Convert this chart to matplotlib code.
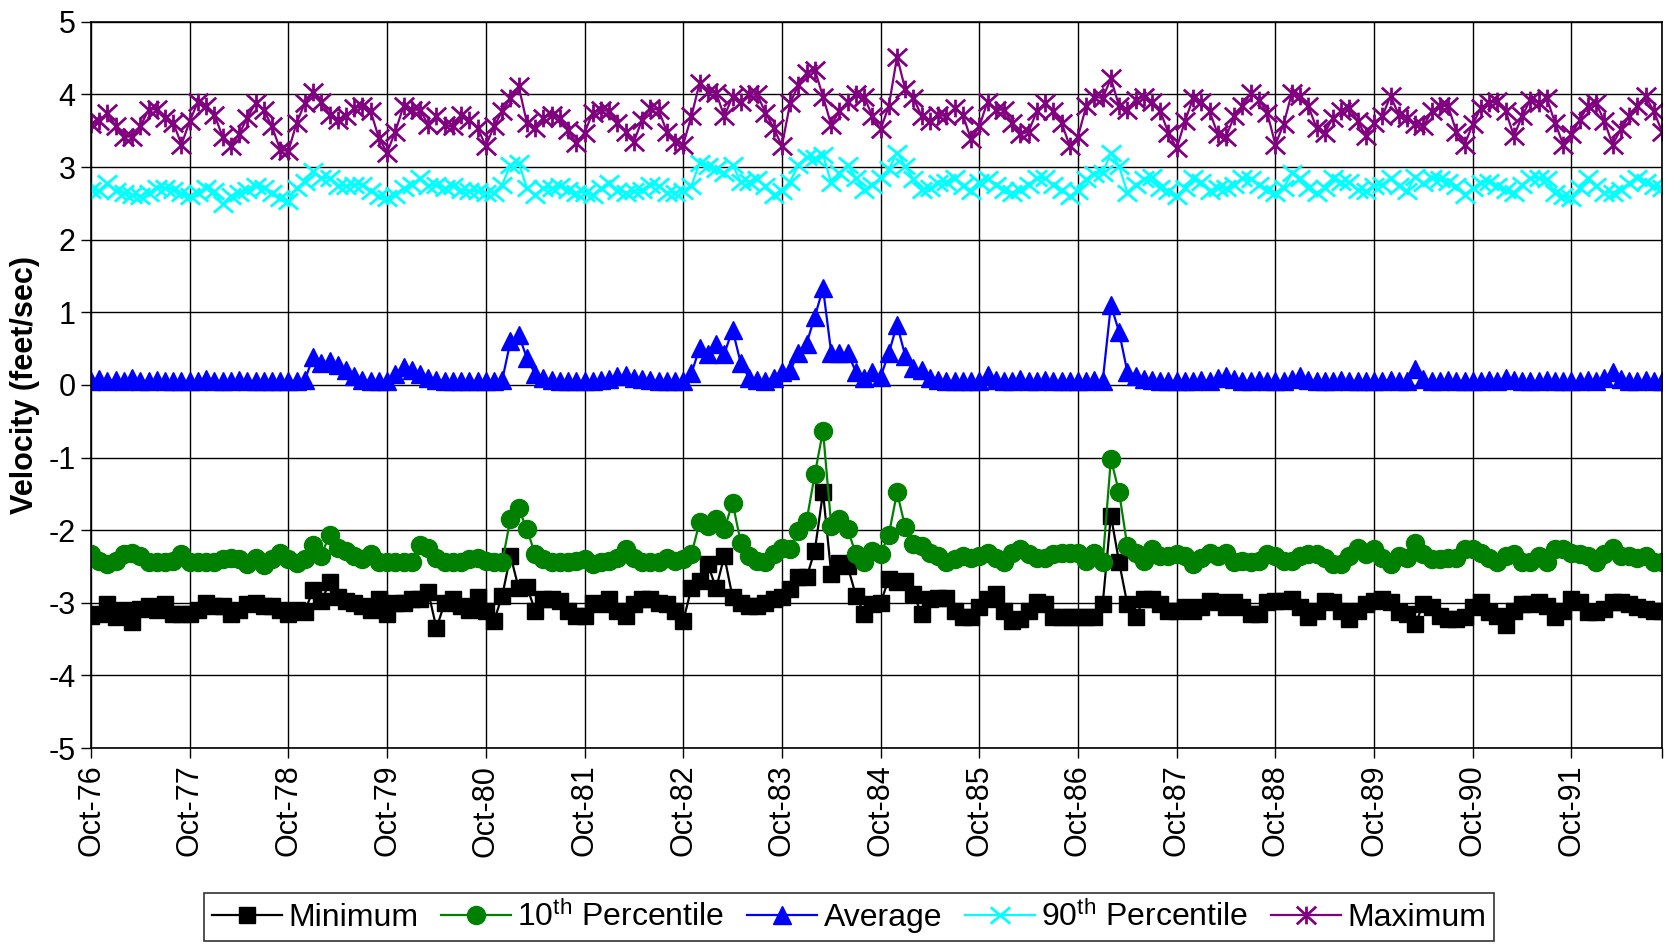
import numpy as np
import matplotlib.pyplot as plt
from matplotlib.path import Path

plt.rcParams['font.family'] = ['Liberation Sans', 'DejaVu Sans']
plt.rcParams['mathtext.fontset'] = 'custom'
plt.rcParams['mathtext.rm'] = 'Liberation Sans'
plt.rcParams['mathtext.it'] = 'Liberation Sans'
plt.rcParams['axes.unicode_minus'] = False

# ---------- DATA: monthly velocity stats, Oct-76 .. Sep-92 ----------
year_labels = ["Oct-76", "Oct-77", "Oct-78", "Oct-79", "Oct-80", "Oct-81", "Oct-82", "Oct-83",
               "Oct-84", "Oct-85", "Oct-86", "Oct-87", "Oct-88", "Oct-89", "Oct-90", "Oct-91"]

minimum = [
    -3.18, -3.15, -3.02, -3.20, -3.10, -3.27, -3.08, -3.05, -3.10, -3.02, -3.15, -3.15,
    -3.15, -3.10, -3.00, -3.05, -3.05, -3.15, -3.10, -3.02, -3.00, -3.05, -3.05, -3.10,
    -3.15, -3.10, -3.12, -2.82, -2.98, -2.72, -2.92, -2.98, -3.00, -3.05, -3.10, -2.95,
    -3.15, -3.00, -3.00, -2.95, -2.95, -2.85, -3.35, -3.00, -2.95, -3.05, -3.10, -2.92,
    -3.11, -3.25, -2.90, -2.35, -2.80, -2.78, -3.11, -2.95, -2.95, -2.97, -3.11, -3.18,
    -3.18, -3.00, -3.02, -2.95, -3.11, -3.18, -3.02, -2.95, -2.95, -3.00, -3.02, -3.11,
    -3.25, -2.80, -2.70, -2.47, -2.80, -2.36, -2.92, -3.00, -3.05, -3.05, -3.00, -2.95,
    -2.92, -2.81, -2.65, -2.65, -2.28, -1.48, -2.60, -2.45, -2.50, -2.90, -3.15, -3.02,
    -3.00, -2.67, -2.72, -2.70, -2.88, -3.16, -2.95, -2.93, -2.93, -3.11, -3.20, -3.20,
    -3.06, -2.95, -2.88, -3.11, -3.25, -3.22, -3.11, -2.99, -3.02, -3.20, -3.20, -3.20,
    -3.20, -3.20, -3.20, -3.02, -1.80, -2.44, -3.02, -3.20, -2.95, -2.95, -3.02, -3.11,
    -3.11, -3.06, -3.11, -3.06, -2.97, -2.99, -3.06, -2.99, -3.06, -3.16, -3.16, -2.99,
    -2.97, -2.97, -2.95, -3.06, -3.20, -3.11, -2.97, -2.99, -3.11, -3.22, -3.11, -3.02,
    -2.97, -2.95, -2.99, -3.13, -3.16, -3.29, -3.02, -3.06, -3.18, -3.22, -3.22, -3.20,
    -3.06, -2.99, -3.13, -3.18, -3.31, -3.11, -3.02, -3.02, -2.99, -3.04, -3.20, -3.11,
    -2.95, -2.99, -3.13, -3.13, -3.09, -2.99, -2.99, -3.02, -3.06, -3.09, -3.11, -3.11,
]

pct10 = [
    -2.33, -2.42, -2.47, -2.42, -2.33, -2.31, -2.35, -2.44, -2.44, -2.44, -2.42, -2.33,
    -2.44, -2.44, -2.44, -2.44, -2.40, -2.38, -2.40, -2.47, -2.38, -2.48, -2.40, -2.31,
    -2.40, -2.45, -2.40, -2.20, -2.35, -2.06, -2.24, -2.29, -2.35, -2.40, -2.33, -2.44,
    -2.44, -2.44, -2.44, -2.44, -2.20, -2.24, -2.38, -2.44, -2.44, -2.44, -2.40, -2.38,
    -2.42, -2.44, -2.44, -1.84, -1.70, -1.99, -2.33, -2.40, -2.44, -2.44, -2.44, -2.42,
    -2.40, -2.47, -2.44, -2.42, -2.38, -2.26, -2.38, -2.44, -2.44, -2.44, -2.38, -2.42,
    -2.40, -2.33, -1.89, -1.94, -1.85, -1.99, -1.62, -2.17, -2.35, -2.42, -2.44, -2.33,
    -2.24, -2.26, -2.01, -1.87, -1.23, -0.63, -1.94, -1.84, -1.99, -2.33, -2.44, -2.29,
    -2.33, -2.06, -1.48, -1.96, -2.19, -2.22, -2.31, -2.35, -2.44, -2.40, -2.35, -2.38,
    -2.35, -2.31, -2.38, -2.44, -2.31, -2.26, -2.33, -2.38, -2.38, -2.33, -2.31, -2.31,
    -2.31, -2.42, -2.31, -2.44, -1.02, -1.48, -2.22, -2.31, -2.42, -2.26, -2.35, -2.35,
    -2.33, -2.35, -2.47, -2.38, -2.31, -2.35, -2.31, -2.44, -2.42, -2.44, -2.42, -2.33,
    -2.35, -2.42, -2.42, -2.35, -2.33, -2.33, -2.38, -2.47, -2.47, -2.35, -2.24, -2.33,
    -2.26, -2.38, -2.47, -2.35, -2.38, -2.17, -2.33, -2.40, -2.40, -2.38, -2.38, -2.26,
    -2.26, -2.31, -2.38, -2.44, -2.35, -2.33, -2.44, -2.44, -2.35, -2.44, -2.26, -2.26,
    -2.31, -2.33, -2.35, -2.44, -2.33, -2.24, -2.35, -2.35, -2.38, -2.35, -2.44, -2.44,
]

average = [
    0.05, 0.08, 0.06, 0.07, 0.05, 0.10, 0.06, 0.05, 0.07, 0.06, 0.05, 0.06,
    0.05, 0.06, 0.08, 0.05, 0.06, 0.05, 0.07, 0.06, 0.05, 0.06, 0.05, 0.06,
    0.05, 0.06, 0.07, 0.38, 0.30, 0.33, 0.27, 0.20, 0.12, 0.07, 0.06, 0.05,
    0.05, 0.15, 0.25, 0.20, 0.15, 0.10, 0.07, 0.06, 0.05, 0.06, 0.05, 0.06,
    0.05, 0.06, 0.07, 0.60, 0.69, 0.37, 0.15, 0.10, 0.07, 0.06, 0.05, 0.06,
    0.05, 0.06, 0.07, 0.08, 0.12, 0.13, 0.10, 0.08, 0.07, 0.06, 0.05, 0.05,
    0.05, 0.16, 0.51, 0.42, 0.57, 0.43, 0.76, 0.30, 0.10, 0.07, 0.06, 0.10,
    0.18, 0.20, 0.44, 0.57, 0.94, 1.33, 0.44, 0.44, 0.44, 0.18, 0.10, 0.18,
    0.11, 0.44, 0.83, 0.40, 0.23, 0.20, 0.10, 0.07, 0.06, 0.05, 0.06, 0.05,
    0.06, 0.14, 0.07, 0.05, 0.06, 0.08, 0.06, 0.05, 0.07, 0.06, 0.05, 0.06,
    0.05, 0.06, 0.07, 0.05, 1.10, 0.73, 0.18, 0.12, 0.08, 0.07, 0.06, 0.05,
    0.05, 0.06, 0.05, 0.07, 0.06, 0.10, 0.12, 0.08, 0.06, 0.05, 0.07, 0.06,
    0.05, 0.06, 0.08, 0.12, 0.07, 0.05, 0.06, 0.05, 0.07, 0.06, 0.05, 0.06,
    0.05, 0.06, 0.07, 0.06, 0.05, 0.22, 0.08, 0.06, 0.05, 0.07, 0.06, 0.05,
    0.06, 0.05, 0.07, 0.06, 0.10, 0.07, 0.05, 0.06, 0.05, 0.07, 0.06, 0.05,
    0.06, 0.05, 0.07, 0.06, 0.10, 0.18, 0.08, 0.06, 0.05, 0.07, 0.06, 0.05,
]

pct90 = [
    2.69, 2.67, 2.78, 2.67, 2.65, 2.62, 2.60, 2.65, 2.71, 2.71, 2.69, 2.65,
    2.60, 2.65, 2.71, 2.67, 2.49, 2.60, 2.65, 2.69, 2.74, 2.71, 2.65, 2.58,
    2.53, 2.71, 2.80, 2.94, 2.85, 2.85, 2.74, 2.74, 2.76, 2.76, 2.67, 2.60,
    2.58, 2.62, 2.71, 2.76, 2.85, 2.74, 2.76, 2.71, 2.74, 2.69, 2.67, 2.67,
    2.65, 2.65, 2.76, 3.03, 3.06, 2.71, 2.62, 2.71, 2.71, 2.74, 2.69, 2.65,
    2.65, 2.62, 2.71, 2.78, 2.67, 2.65, 2.67, 2.69, 2.76, 2.74, 2.65, 2.65,
    2.67, 2.74, 3.06, 3.01, 2.97, 2.92, 3.03, 2.80, 2.80, 2.83, 2.74, 2.62,
    2.67, 2.80, 3.03, 3.14, 3.12, 3.17, 2.78, 2.92, 3.03, 2.85, 2.69, 2.76,
    2.85, 2.97, 3.20, 3.01, 2.83, 2.69, 2.71, 2.78, 2.80, 2.85, 2.74, 2.67,
    2.80, 2.83, 2.76, 2.69, 2.65, 2.69, 2.76, 2.85, 2.85, 2.76, 2.69, 2.60,
    2.67, 2.83, 2.90, 2.92, 3.20, 3.01, 2.65, 2.76, 2.83, 2.87, 2.71, 2.67,
    2.60, 2.71, 2.85, 2.80, 2.67, 2.71, 2.71, 2.76, 2.85, 2.83, 2.76, 2.69,
    2.65, 2.71, 2.92, 2.85, 2.71, 2.65, 2.71, 2.85, 2.80, 2.80, 2.69, 2.67,
    2.74, 2.76, 2.85, 2.74, 2.67, 2.87, 2.78, 2.85, 2.83, 2.80, 2.74, 2.62,
    2.71, 2.78, 2.80, 2.74, 2.69, 2.65, 2.76, 2.85, 2.85, 2.83, 2.65, 2.60,
    2.58, 2.71, 2.85, 2.74, 2.65, 2.65, 2.69, 2.78, 2.85, 2.80, 2.74, 2.71,
]

maximum = [
    3.59, 3.63, 3.75, 3.56, 3.42, 3.42, 3.56, 3.79, 3.80, 3.68, 3.61, 3.31,
    3.63, 3.90, 3.84, 3.72, 3.42, 3.29, 3.45, 3.68, 3.88, 3.79, 3.56, 3.24,
    3.22, 3.61, 3.88, 4.04, 3.90, 3.72, 3.65, 3.70, 3.81, 3.84, 3.77, 3.40,
    3.20, 3.49, 3.84, 3.79, 3.79, 3.58, 3.70, 3.58, 3.56, 3.72, 3.65, 3.54,
    3.29, 3.56, 3.77, 3.95, 4.11, 3.61, 3.54, 3.68, 3.72, 3.68, 3.51, 3.33,
    3.47, 3.75, 3.79, 3.77, 3.61, 3.49, 3.35, 3.65, 3.81, 3.79, 3.49, 3.35,
    3.31, 3.70, 4.16, 4.04, 4.02, 3.70, 3.97, 3.90, 4.00, 4.00, 3.75, 3.54,
    3.29, 3.88, 4.13, 4.30, 4.34, 3.97, 3.58, 3.77, 3.90, 4.00, 3.97, 3.70,
    3.52, 3.84, 4.52, 4.07, 3.95, 3.70, 3.63, 3.72, 3.70, 3.81, 3.72, 3.38,
    3.56, 3.90, 3.79, 3.79, 3.61, 3.45, 3.49, 3.77, 3.88, 3.77, 3.61, 3.29,
    3.42, 3.84, 3.97, 3.95, 4.22, 3.84, 3.79, 3.93, 3.97, 3.90, 3.77, 3.47,
    3.26, 3.63, 3.95, 3.90, 3.77, 3.45, 3.42, 3.70, 3.84, 4.02, 3.93, 3.75,
    3.31, 3.59, 4.02, 3.98, 3.84, 3.54, 3.47, 3.68, 3.77, 3.82, 3.63, 3.43,
    3.61, 3.70, 3.98, 3.72, 3.68, 3.59, 3.56, 3.77, 3.84, 3.84, 3.49, 3.31,
    3.59, 3.82, 3.88, 3.91, 3.77, 3.43, 3.70, 3.93, 3.88, 3.95, 3.61, 3.31,
    3.45, 3.65, 3.84, 3.88, 3.63, 3.31, 3.52, 3.70, 3.84, 3.98, 3.77, 3.49,
]

# Excel-style markers: a wide X, and an X with a vertical bar (asterisk)
cross = Path([(-1.2, -1), (1.2, 1), (-1.2, 1), (1.2, -1)],
             [Path.MOVETO, Path.LINETO] * 2)
star = Path([(-1.1, -1), (1.1, 1), (-1.1, 1), (1.1, -1), (0, -1), (0, 1)],
            [Path.MOVETO, Path.LINETO] * 3)

series = [
    (minimum, "Minimum", "#000000", dict(marker="s", markersize=12)),
    (pct10, r"10$^{\mathrm{th}}$ Percentile", "#008000", dict(marker="o", markersize=13)),
    (average, "Average", "#0000FF", dict(marker="^", markersize=13)),
    (pct90, r"90$^{\mathrm{th}}$ Percentile", "#00FFFF",
     dict(marker=cross, markersize=14, markeredgewidth=2, markerfacecolor="none")),
    (maximum, "Maximum", "#800080",
     dict(marker=star, markersize=14, markeredgewidth=2, markerfacecolor="none")),
]

fig, ax = plt.subplots(figsize=(16.73, 9.5), dpi=100)
fig.subplots_adjust(left=0.0544, right=0.9934, top=0.977, bottom=0.2126)

for values, label, color, mk in series:
    x = np.arange(len(values))
    ax.plot(x, values, color=color, linewidth=1.6, label=label,
            markeredgecolor=color, **mk)

n_months = len(maximum)
ax.set_xlim(0, n_months - 1)
ax.set_ylim(-5, 5)

year_ticks = list(range(0, 12 * len(year_labels), 12)) + [n_months - 1]
ax.set_xticks(year_ticks)
ax.set_xticklabels(year_labels + [""], rotation=90)
ax.set_yticks(range(-5, 6))
ax.tick_params(axis="both", labelsize=22, length=7, width=1, direction="out", color="black")
ax.tick_params(axis="x", pad=5)
ax.tick_params(axis="y", pad=4)

ax.grid(True, color="black", linewidth=1)
ax.set_axisbelow(True)
for s in ax.spines.values():
    s.set_color("black")
    s.set_linewidth(1.2)

ax.set_ylabel("Velocity (feet/sec)", fontsize=22, fontweight="bold", labelpad=6)

leg = fig.legend(loc="center", bbox_to_anchor=(0.5075, 0.035), ncol=5, fontsize=23,
                 frameon=True, fancybox=False, edgecolor="black", handlelength=2.2,
                 handletextpad=0.2, columnspacing=0.7, borderpad=0.25)
leg.get_frame().set_linewidth(1.2)

plt.savefig("out.png", dpi=100)
